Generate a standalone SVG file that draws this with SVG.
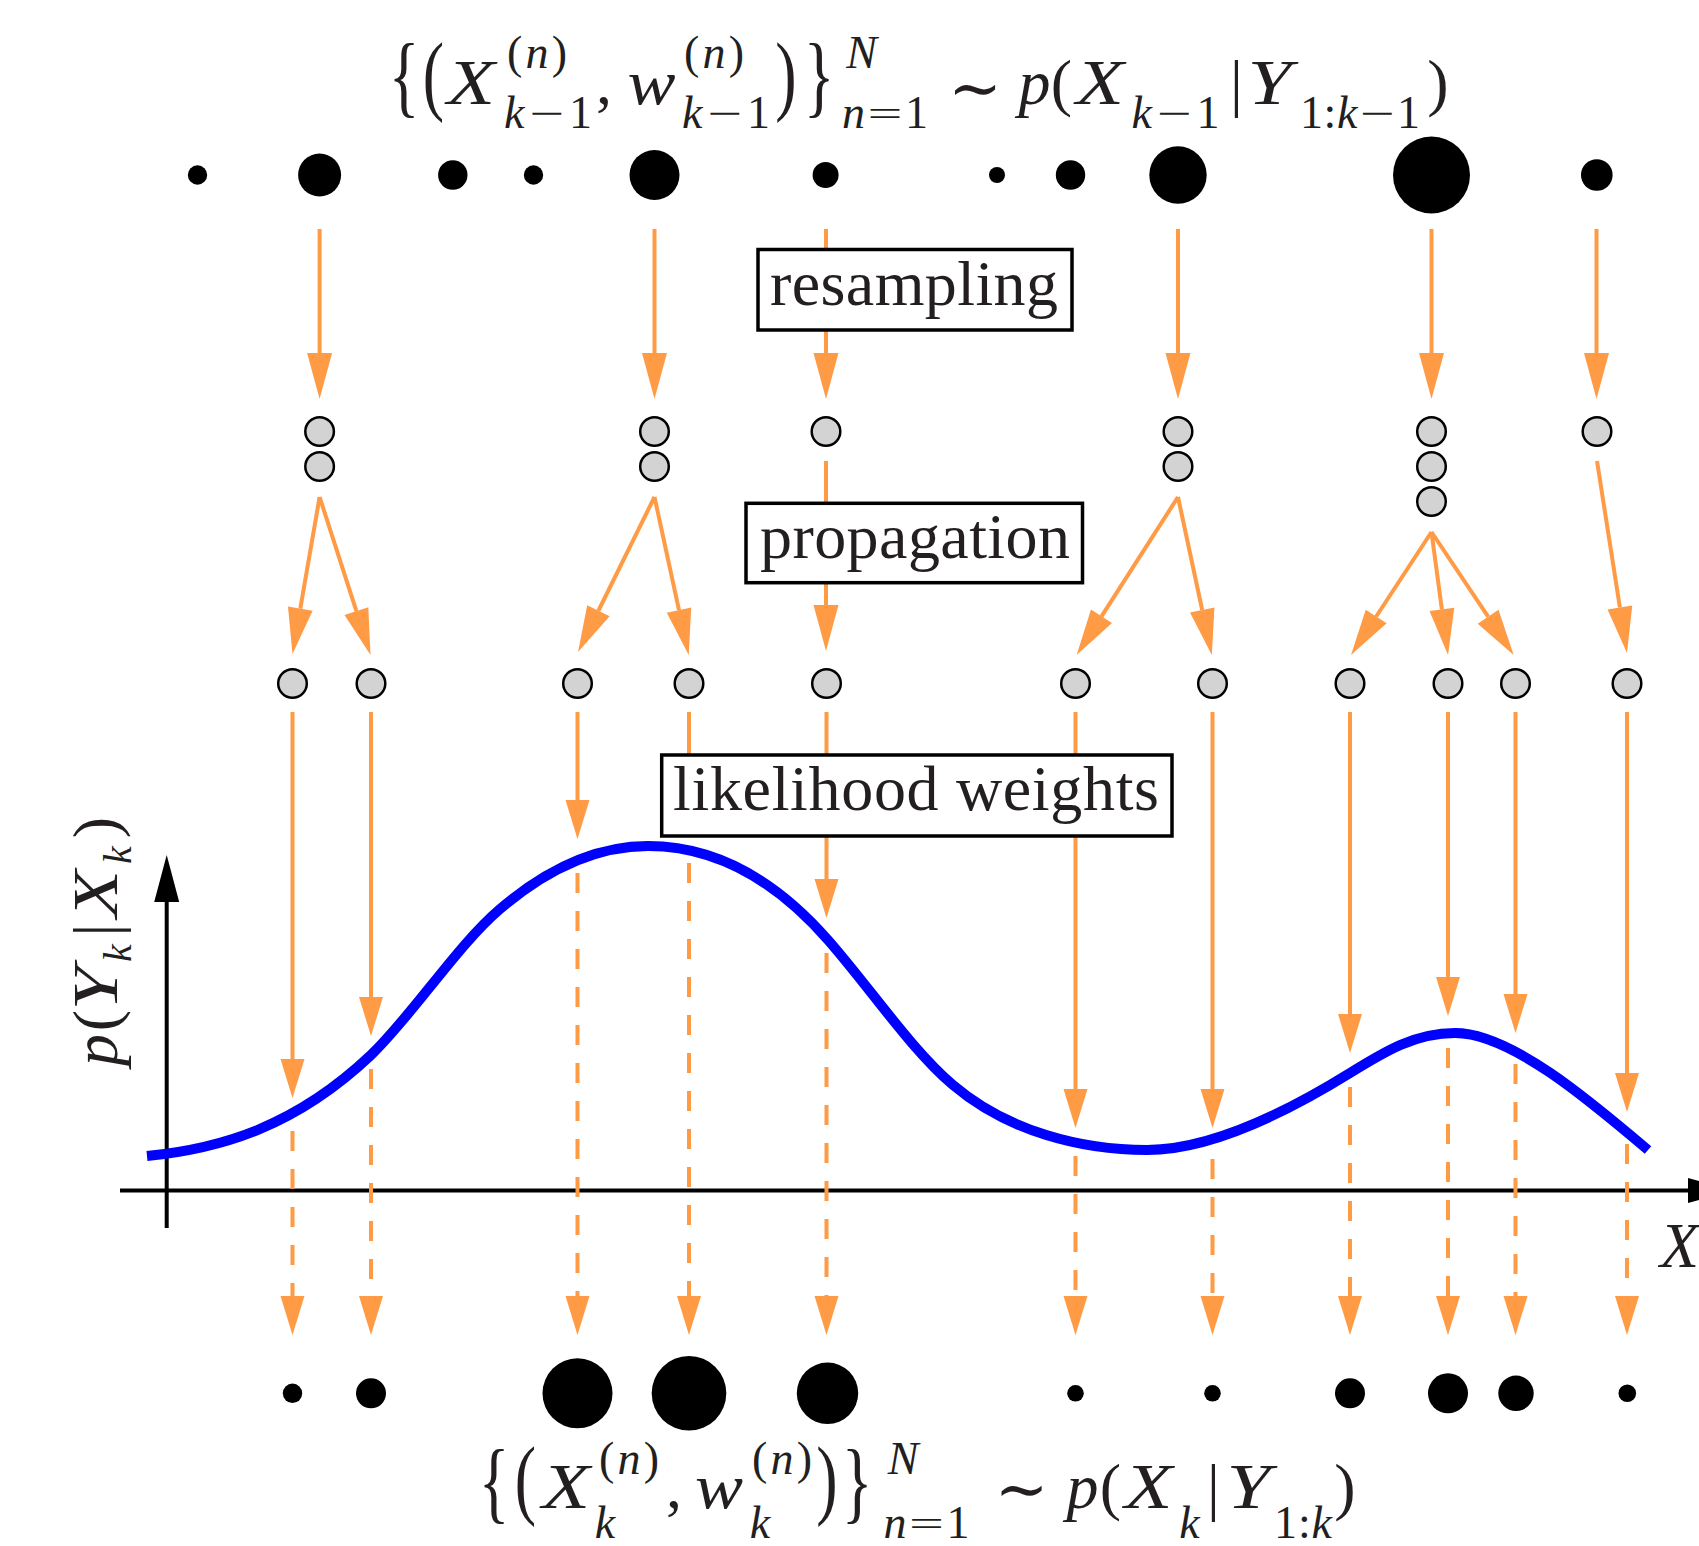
<svg xmlns="http://www.w3.org/2000/svg" width="1699" height="1546" viewBox="0 0 1699 1546">
<style>
.or{stroke:#FF9A45;stroke-width:4;fill:none}
.dash{stroke-dasharray:20 18}
.dot{fill:#000}
.gc{fill:#D3D3D3;stroke:#000;stroke-width:2.5}
.box{fill:#fff;stroke:#000;stroke-width:3.5}
.lbl{font-family:"Liberation Serif","Times New Roman",serif;font-size:64px;fill:#231F20;text-anchor:middle}
.m{font-family:"Liberation Serif","DejaVu Serif",serif;font-size:64px;fill:#231F20;text-anchor:middle}
.i{font-style:italic}
.s{font-size:46px}
.op{font-family:"DejaVu Sans",sans-serif;font-weight:200}
</style>
<defs>
<marker id="ah" markerUnits="userSpaceOnUse" markerWidth="46" markerHeight="26" refX="0" refY="12.5" orient="auto" viewBox="0 0 46 25" overflow="visible"><path d="M0,0 L46,12.5 L0,25 Z" fill="#FF9A45"/></marker>
<marker id="ah2" markerUnits="userSpaceOnUse" markerWidth="39" markerHeight="24" refX="0" refY="12" orient="auto" viewBox="0 0 39 24" overflow="visible"><path d="M0,0 L39,12 L0,24 Z" fill="#FF9A45"/></marker>
<marker id="ax" markerUnits="userSpaceOnUse" markerWidth="47" markerHeight="25" refX="0" refY="12.5" orient="auto" viewBox="0 0 47 25" overflow="visible"><path d="M0,0 L47,12.5 L0,25 Z" fill="#000"/></marker>
</defs>
<rect width="1699" height="1546" fill="#fff"/>

<g id="axes" stroke="#000" stroke-width="4" fill="none">
<path d="M166.7,1228 L166.7,902" marker-end="url(#ax)"/>
<path d="M120,1190.5 L1688,1190.5" marker-end="url(#ax)"/>
</g>

<g id="connectors">
<g id="resampling-arrows" class="or">
<path d="M319.6,229 L319.6,353" marker-end="url(#ah)"/>
<path d="M654.5,229 L654.5,353" marker-end="url(#ah)"/>
<path d="M826,229 L826,353" marker-end="url(#ah)"/>
<path d="M1178,229 L1178,353" marker-end="url(#ah)"/>
<path d="M1431.5,229 L1431.5,353" marker-end="url(#ah)"/>
<path d="M1596.5,229 L1596.5,353" marker-end="url(#ah)"/>
</g>
<g id="propagation-arrows" class="or">
<path d="M319.6,497 L300.3,608.7" marker-end="url(#ah)"/>
<path d="M319.6,497 L356.4,611.2" marker-end="url(#ah)"/>
<path d="M654.5,497 L598.4,610.75" marker-end="url(#ah)"/>
<path d="M654.5,497 L679,610.05" marker-end="url(#ah)"/>
<path d="M826,461 L826,605" marker-end="url(#ah)"/>
<path d="M1178,497 L1101.5,616.3" marker-end="url(#ah)"/>
<path d="M1178,497 L1202.2,610" marker-end="url(#ah)"/>
<path d="M1431.5,532 L1376.2,616.5" marker-end="url(#ah)"/>
<path d="M1431.5,532 L1441.9,609.4" marker-end="url(#ah)"/>
<path d="M1431.5,532 L1488.1,616.7" marker-end="url(#ah)"/>
<path d="M1597,461 L1619.9,607.55" marker-end="url(#ah)"/>
</g>
<g id="likelihood-arrows" class="or">
<path d="M292.5,712 L292.5,1059" marker-end="url(#ah2)"/>
<path d="M371,712 L371,997" marker-end="url(#ah2)"/>
<path d="M577.5,712 L577.5,800" marker-end="url(#ah2)"/>
<path d="M689,712 L689,793" marker-end="url(#ah2)"/>
<path d="M826.5,712 L826.5,879" marker-end="url(#ah2)"/>
<path d="M1075.5,712 L1075.5,1089" marker-end="url(#ah2)"/>
<path d="M1212.5,712 L1212.5,1089" marker-end="url(#ah2)"/>
<path d="M1350,712 L1350,1014" marker-end="url(#ah2)"/>
<path d="M1448,712 L1448,977" marker-end="url(#ah2)"/>
<path d="M1515.5,712 L1515.5,994" marker-end="url(#ah2)"/>
<path d="M1627,712 L1627,1073" marker-end="url(#ah2)"/>
</g>
<g id="weight-arrows" class="or dash">
<path d="M292.5,1131 L292.5,1296" marker-end="url(#ah2)"/>
<path d="M371,1069 L371,1296" marker-end="url(#ah2)"/>
<path d="M577.5,873 L577.5,1296" marker-end="url(#ah2)"/>
<path d="M689,863 L689,1296" marker-end="url(#ah2)"/>
<path d="M826.5,953 L826.5,1296" marker-end="url(#ah2)"/>
<path d="M1075.5,1156 L1075.5,1296" marker-end="url(#ah2)"/>
<path d="M1212.5,1159 L1212.5,1296" marker-end="url(#ah2)"/>
<path d="M1350,1087 L1350,1296" marker-end="url(#ah2)"/>
<path d="M1448,1048 L1448,1296" marker-end="url(#ah2)"/>
<path d="M1515.5,1064 L1515.5,1296" marker-end="url(#ah2)"/>
<path d="M1627,1144 L1627,1296" marker-end="url(#ah2)"/>
</g>
</g>

<g id="likelihood-curve">
<path fill="none" stroke="#0000FF" stroke-width="10" d="M147,1156 C222,1148.5 296,1126 371,1055 C414,1013.3 457,945.7 500,909 C550,866.3 598,846 648,846 C708,846 768,871.5 828,940 C870,987.9 911,1049.3 953,1085 C1008,1131.75 1082,1150 1147,1150 C1212,1150 1290,1110.2 1350,1073 C1385,1051.3 1415,1033 1455,1033 C1510,1033 1588,1099 1648,1150"/>
</g>

<g id="prior-particles">
<circle id="prior-1" class="dot" cx="197.5" cy="175" r="9.7"/>
<circle id="prior-2" class="dot" cx="319.6" cy="175" r="21.5"/>
<circle id="prior-3" class="dot" cx="452.8" cy="175" r="14.7"/>
<circle id="prior-4" class="dot" cx="533.5" cy="175" r="9.7"/>
<circle id="prior-5" class="dot" cx="654.5" cy="175" r="25"/>
<circle id="prior-6" class="dot" cx="825.6" cy="175" r="13"/>
<circle id="prior-7" class="dot" cx="997" cy="175" r="8"/>
<circle id="prior-8" class="dot" cx="1070.5" cy="175" r="14.7"/>
<circle id="prior-9" class="dot" cx="1178" cy="175" r="28.7"/>
<circle id="prior-10" class="dot" cx="1431.5" cy="175" r="38.5"/>
<circle id="prior-11" class="dot" cx="1596.8" cy="175" r="15.8"/>
</g>

<g id="resampled-particles">
<circle id="res-1a" class="gc" cx="319.6" cy="431.5" r="14.3"/>
<circle id="res-1b" class="gc" cx="319.6" cy="466.5" r="14.3"/>
<circle id="res-2a" class="gc" cx="654.5" cy="431.5" r="14.3"/>
<circle id="res-2b" class="gc" cx="654.5" cy="466.5" r="14.3"/>
<circle id="res-3a" class="gc" cx="826" cy="431.5" r="14.3"/>
<circle id="res-4a" class="gc" cx="1178" cy="431.5" r="14.3"/>
<circle id="res-4b" class="gc" cx="1178" cy="466.5" r="14.3"/>
<circle id="res-5a" class="gc" cx="1431.5" cy="431.5" r="14.3"/>
<circle id="res-5b" class="gc" cx="1431.5" cy="466.5" r="14.3"/>
<circle id="res-5c" class="gc" cx="1431.5" cy="501.5" r="14.3"/>
<circle id="res-6a" class="gc" cx="1597" cy="431.5" r="14.3"/>
</g>

<g id="propagated-particles">
<circle id="prop-1" class="gc" cx="292.5" cy="683.5" r="14.3"/>
<circle id="prop-2" class="gc" cx="371" cy="683.5" r="14.3"/>
<circle id="prop-3" class="gc" cx="577.5" cy="683.5" r="14.3"/>
<circle id="prop-4" class="gc" cx="689" cy="683.5" r="14.3"/>
<circle id="prop-5" class="gc" cx="826.5" cy="683.5" r="14.3"/>
<circle id="prop-6" class="gc" cx="1075.5" cy="683.5" r="14.3"/>
<circle id="prop-7" class="gc" cx="1212.5" cy="683.5" r="14.3"/>
<circle id="prop-8" class="gc" cx="1350" cy="683.5" r="14.3"/>
<circle id="prop-9" class="gc" cx="1448" cy="683.5" r="14.3"/>
<circle id="prop-10" class="gc" cx="1515.5" cy="683.5" r="14.3"/>
<circle id="prop-11" class="gc" cx="1627" cy="683.5" r="14.3"/>
</g>

<g id="posterior-particles">
<circle id="post-1" class="dot" cx="292.5" cy="1393.3" r="9.7"/>
<circle id="post-2" class="dot" cx="371" cy="1393.3" r="15"/>
<circle id="post-3" class="dot" cx="577.5" cy="1393.3" r="35"/>
<circle id="post-4" class="dot" cx="689" cy="1393.3" r="37.3"/>
<circle id="post-5" class="dot" cx="827.5" cy="1393.3" r="30.7"/>
<circle id="post-6" class="dot" cx="1075.5" cy="1393.3" r="8.3"/>
<circle id="post-7" class="dot" cx="1212.5" cy="1393.3" r="8.3"/>
<circle id="post-8" class="dot" cx="1350" cy="1393.3" r="15"/>
<circle id="post-9" class="dot" cx="1448" cy="1393.3" r="20"/>
<circle id="post-10" class="dot" cx="1516" cy="1393.3" r="17.7"/>
<circle id="post-11" class="dot" cx="1627.3" cy="1393.3" r="8.8"/>
</g>

<g id="label-resampling">
<rect class="box" x="758" y="249.5" width="314" height="80.5"/>
<text class="lbl" x="914" y="305" textLength="288">resampling</text>
</g>
<g id="label-propagation">
<rect class="box" x="746" y="503.3" width="336.5" height="79.4"/>
<text class="lbl" x="915" y="558" textLength="310">propagation</text>
</g>
<g id="label-likelihood">
<rect class="box" x="661.7" y="755" width="510.3" height="81"/>
<text class="lbl" x="916" y="810" textLength="486">likelihood weights</text>
</g>

<g id="formula-top" class="m">
<text transform="translate(404,106) scale(1,1.42)">{</text>
<text transform="translate(433.5,104) scale(1,1.38)">(</text>
<text class="i" x="471" y="104" textLength="48" lengthAdjust="spacingAndGlyphs">X</text>
<text class="s" x="537" y="68" textLength="60">(<tspan class="i">n</tspan>)</text>
<text class="s" x="548" y="128" textLength="88"><tspan class="i">k</tspan><tspan class="op">−</tspan>1</text>
<text x="604" y="104">,</text>
<text class="i" x="651.5" y="104" textLength="48" lengthAdjust="spacingAndGlyphs">w</text>
<text class="s" x="714" y="68" textLength="60">(<tspan class="i">n</tspan>)</text>
<text class="s" x="726" y="128" textLength="88"><tspan class="i">k</tspan><tspan class="op">−</tspan>1</text>
<text transform="translate(786,104) scale(1,1.38)">)</text>
<text transform="translate(819,106) scale(1,1.42)">}</text>
<text class="s i" x="861.5" y="68">N</text>
<text class="s" x="885" y="128" textLength="86"><tspan class="i">n</tspan><tspan class="op">=</tspan>1</text>
<text x="975" y="110">∼</text>
<text class="i" x="1034.5" y="104">p</text>
<text x="1061.5" y="104">(</text>
<text class="i" x="1100" y="104" textLength="48" lengthAdjust="spacingAndGlyphs">X</text>
<text class="s" x="1175.5" y="128" textLength="88"><tspan class="i">k</tspan><tspan class="op">−</tspan>1</text>
<text x="1236.5" y="104">|</text>
<text class="i" x="1269.5" y="104" textLength="44" lengthAdjust="spacingAndGlyphs">Y</text>
<text class="s" x="1360" y="128" textLength="120">1:<tspan class="i">k</tspan><tspan class="op">−</tspan>1</text>
<text x="1438" y="104">)</text>
</g>

<g id="formula-bottom" class="m">
<text transform="translate(494,1512) scale(1,1.42)">{</text>
<text transform="translate(525.5,1508) scale(1,1.38)">(</text>
<text class="i" x="566" y="1508" textLength="48" lengthAdjust="spacingAndGlyphs">X</text>
<text class="s" x="629" y="1474" textLength="60">(<tspan class="i">n</tspan>)</text>
<text class="s i" x="605" y="1538">k</text>
<text x="674" y="1508">,</text>
<text class="i" x="719" y="1508" textLength="48" lengthAdjust="spacingAndGlyphs">w</text>
<text class="s" x="782" y="1474" textLength="60">(<tspan class="i">n</tspan>)</text>
<text class="s i" x="760" y="1538">k</text>
<text transform="translate(827,1508) scale(1,1.38)">)</text>
<text transform="translate(857,1512) scale(1,1.42)">}</text>
<text class="s i" x="903" y="1474">N</text>
<text class="s" x="926.5" y="1538" textLength="86"><tspan class="i">n</tspan><tspan class="op">=</tspan>1</text>
<text x="1021.5" y="1511">∼</text>
<text class="i" x="1082.5" y="1508">p</text>
<text x="1110.5" y="1508">(</text>
<text class="i" x="1148.5" y="1508" textLength="48" lengthAdjust="spacingAndGlyphs">X</text>
<text class="s i" x="1189.5" y="1538">k</text>
<text x="1213.5" y="1508">|</text>
<text class="i" x="1248.5" y="1508" textLength="44" lengthAdjust="spacingAndGlyphs">Y</text>
<text class="s" x="1303" y="1538" textLength="58">1:<tspan class="i">k</tspan></text>
<text x="1345" y="1508">)</text>
</g>

<g id="axis-labels" class="m">
<g transform="translate(117,1067) rotate(-90)">
<text class="i" x="17" y="0">p</text>
<text x="46.5" y="0">(</text>
<text class="i" x="78.5" y="0" textLength="44" lengthAdjust="spacingAndGlyphs">Y</text>
<text class="i" x="114" y="14" style="font-size:40px">k</text>
<text x="137" y="0">|</text>
<text class="i" x="173" y="0" textLength="48" lengthAdjust="spacingAndGlyphs">X</text>
<text class="i" x="212" y="14" style="font-size:40px">k</text>
<text x="239.5" y="0">)</text>
</g>
<text class="i" x="1660" y="1267" style="text-anchor:start">X</text>
</g>
</svg>
